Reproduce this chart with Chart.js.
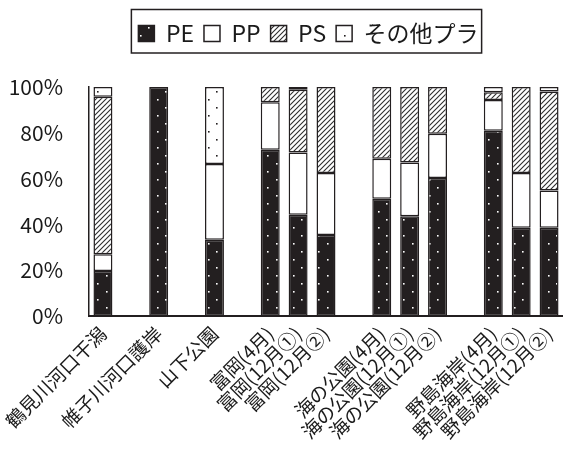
<!DOCTYPE html>
<html>
<head>
<meta charset="utf-8">
<script src="https://cdn.jsdelivr.net/npm/chart.js@4.4.0/dist/chart.umd.min.js"></script>
<style>
  html, body { margin: 0; padding: 0; background: #fff; }
  #wrap { width: 563px; height: 450px; }
</style>
</head>
<body>
<div id="wrap"><canvas id="chart"></canvas></div>
<script>
// Categories ('' = spacer slot between site groups)
const categories = [
    '鶴見川河口干潟', '', '帷子川河口護岸', '', '山下公園', '',
    '富岡(4月)', '富岡(12月①)', '富岡(12月②)', '',
    '海の公園(4月)', '海の公園(12月①)', '海の公園(12月②)', '',
    '野島海岸(4月)', '野島海岸(12月①)', '野島海岸(12月②)'
];
const seriesNames = ['PE', 'PP', 'PS', 'その他プラ'];

// Composition (%)
const pe    = [19.7, null, 100, null, 33.4, null, 72.6, 44.3, 35.4, null, 51.3, 43.6, 60.3, null, 80.9, 38.6, 38.6];
const pp    = [7.3,  null, 0,   null, 33.0, null, 20.7, 27.1, 27.1, null, 17.4, 23.5, 19.3, null, 13.4, 23.9, 16.3];
const ps    = [68.8, null, 0,   null, 0,    null, 6.7,  27.4, 37.5, null, 31.3, 32.9, 20.4, null, 3.4,  37.5, 43.1];
const other = [4.2,  null, 0,   null, 33.6, null, 0,    1.2,  0,    null, 0,    0,    0,    null, 2.3,  0,    2.0];

const yTicks = [0, 20, 40, 60, 80, 100];

const ink = '#231f20';
const jpFont = '"Noto Sans CJK JP"';

// Fill patterns
function makePattern(w, h, draw) {
    const c = document.createElement('canvas');
    c.width = w;
    c.height = h;
    const g = c.getContext('2d');
    draw(g, w, h);
    return g.createPattern(c, 'repeat');
}

const dotsOnBlack = makePattern(17, 16, function(g, w, h) {
    g.fillStyle = ink;
    g.fillRect(0, 0, w, h);
    g.fillStyle = '#ffffff';
    g.fillRect(4, 3, 1.6, 1.6);
    g.fillRect(12, 11, 1.6, 1.6);
});

const dotsOnWhite = makePattern(17, 16, function(g, w, h) {
    g.fillStyle = '#ffffff';
    g.fillRect(0, 0, w, h);
    g.fillStyle = ink;
    g.fillRect(4, 3, 1.6, 1.6);
    g.fillRect(12, 11, 1.6, 1.6);
});

const hatch = makePattern(5, 5, function(g, w, h) {
    g.fillStyle = '#ffffff';
    g.fillRect(0, 0, w, h);
    g.strokeStyle = '#2e2e2e';
    g.lineWidth = 1.1;
    g.beginPath();
    g.moveTo(0, h); g.lineTo(w, 0);
    g.moveTo(-1, 1); g.lineTo(1, -1);
    g.moveTo(w - 1, h + 1); g.lineTo(w + 1, h - 1);
    g.stroke();
});

const fills = [dotsOnBlack, '#ffffff', hatch, dotsOnWhite];
const seriesData = [pe, pp, ps, other];

// Legend: extra room under it, nudged right, framed
const legendFrame = {
    id: 'legendFrame',
    afterInit(chart) {
        const lg = chart.legend;
        const fit = lg.fit.bind(lg);
        lg.fit = function() {
            fit();
            this.height = 75;
        };
    },
    afterLayout(chart) {
        chart.legend.left += 25;
        chart.legend.right += 25;
    },
    afterDraw(chart) {
        const boxes = chart.legend.legendHitBoxes;
        if (!boxes || !boxes.length) return;
        const left = Math.min.apply(null, boxes.map(b => b.left));
        const right = Math.max.apply(null, boxes.map(b => b.left + b.width));
        const ctx = chart.ctx;
        ctx.save();
        ctx.strokeStyle = ink;
        ctx.lineWidth = 1.5;
        ctx.strokeRect(left - 7, 9.5, right - left + 10, 43.5);
        ctx.restore();
    }
};

new Chart(document.getElementById('chart'), {
    type: 'bar',
    data: {
        labels: categories,
        datasets: seriesNames.map(function(name, i) {
            return {
                label: name,
                data: seriesData[i],
                backgroundColor: fills[i],
                borderColor: ink,
                borderWidth: 1.5,
                borderSkipped: false,
                categoryPercentage: 1,
                barPercentage: 0.68
            };
        })
    },
    options: {
        responsive: true,
        maintainAspectRatio: false,
        animation: false,
        devicePixelRatio: 1,
        layout: { padding: { left: 4, right: 0, top: 12, bottom: 1 } },
        plugins: {
            legend: {
                position: 'top',
                labels: {
                    boxWidth: 16,
                    boxHeight: 16,
                    padding: 10,
                    color: '#1a1a1a',
                    font: { family: jpFont, size: 23 }
                }
            },
            tooltip: { enabled: false }
        },
        scales: {
            x: {
                stacked: true,
                grid: { display: false, drawTicks: false },
                border: { display: true, color: ink, width: 2 },
                afterFit: function(scale) {
                    // rotated labels may hang past the plot edges
                    scale.paddingLeft = 0;
                    scale.paddingRight = 0;
                },
                ticks: {
                    autoSkip: false,
                    minRotation: 45,
                    maxRotation: 45,
                    padding: 6,
                    color: '#1a1a1a',
                    font: { family: jpFont, size: 19 }
                }
            },
            y: {
                stacked: true,
                min: 0,
                max: 100,
                grid: { display: false, drawTicks: false },
                border: { display: true, color: ink, width: 1.5 },
                afterBuildTicks: function(scale) {
                    scale.ticks = yTicks.map(v => ({ value: v }));
                },
                afterFit: function(scale) {
                    scale.width = 85;
                },
                ticks: {
                    padding: 26,
                    color: '#1a1a1a',
                    font: { family: jpFont, size: 21 },
                    callback: v => v + '%'
                }
            }
        }
    },
    plugins: [legendFrame]
});
</script>
</body>
</html>
